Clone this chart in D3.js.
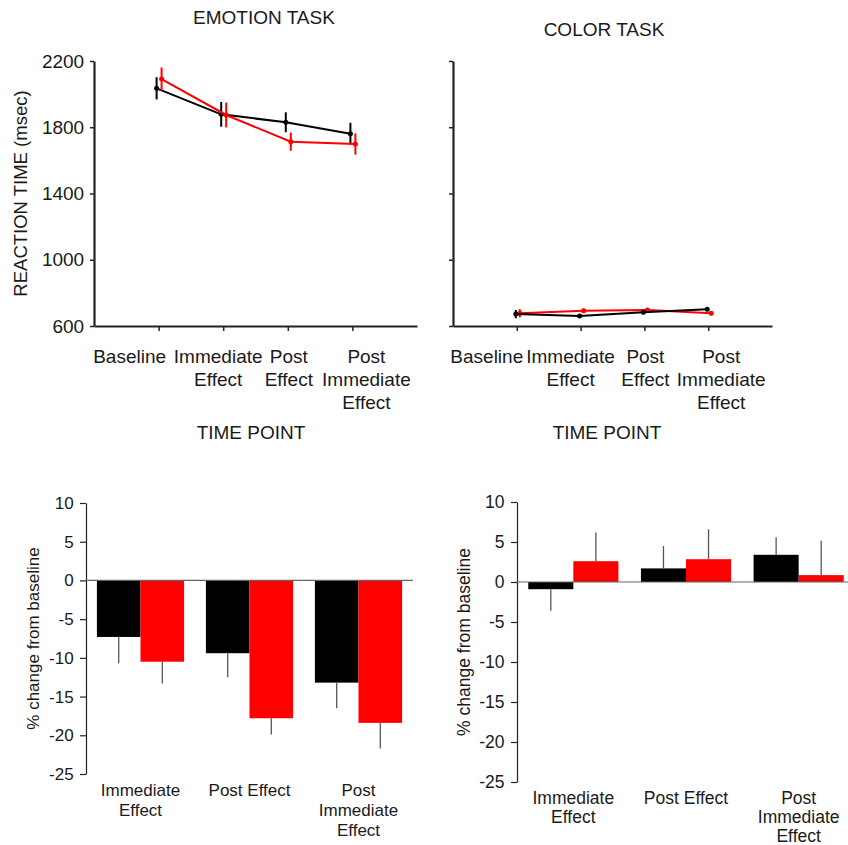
<!DOCTYPE html>
<html>
<head>
<meta charset="utf-8">
<script src="https://cdn.jsdelivr.net/npm/d3@7"></script>
<style>
  body { margin: 0; background: #fff; }
  svg { display: block; font-family: Arial, "Liberation Sans", sans-serif; }
</style>
</head>
<body>
<svg id="chart" width="848" height="845"></svg>
<script>
// time points of the reaction-time panels
var timePoints = ["Baseline", "Immediate Effect", "Post Effect", "Post Immediate Effect"];
var timeLabelLines = [["Baseline"], ["Immediate", "Effect"], ["Post", "Effect"], ["Post", "Immediate", "Effect"]];
var rtTicks = [600, 1000, 1400, 1800, 2200];

// emotion task reaction times (msec)
var emotionBlack = [2035, 1878, 1830, 1761];
var emotionBlackErr = [67, 75, 60, 66];
var emotionRed = [2091, 1874, 1713, 1699];
var emotionRedErr = [70, 75, 55, 64];

// color task reaction times (msec)
var colorBlack = [672, 660, 683, 701];
var colorBlackErr = [25, 12, 12, 12];
var colorRed = [677, 692, 697, 677];
var colorRedErr = [25, 12, 12, 12];

// % change from baseline
var changePoints = ["Immediate Effect", "Post Effect", "Post Immediate Effect"];
var changeLabelLines = [["Immediate", "Effect"], ["Post Effect"], ["Post", "Immediate", "Effect"]];
var changeTicks = [-25, -20, -15, -10, -5, 0, 5, 10];
var emotionChangeBlack = [-7.3, -9.4, -13.2];
var emotionChangeBlackErr = [3.4, 3.1, 3.3];
var emotionChangeRed = [-10.5, -17.8, -18.4];
var emotionChangeRedErr = [2.8, 2.1, 3.3];
var colorChangeBlack = [-0.9, 1.7, 3.4];
var colorChangeBlackErr = [2.7, 2.8, 2.2];
var colorChangeRed = [2.6, 2.85, 0.86];
var colorChangeRedErr = [3.6, 3.75, 4.3];

var svg = d3.select("#chart"),
  textColor = "#1a1a1a",
  red = "#ff0000",
  black = "#000000";

var lineChart = function(sett) {
  var g = svg.append("g"),
    x = d3.scaleLinear().domain([-1, 4]).range([sett.left, sett.right]),
    y = d3.scaleLinear().domain([600, 2200]).range([sett.bottom, sett.top]),
    line = d3.line()
      .x(function(d, i) { return x(i) + d.dx; })
      .y(function(d) { return y(d.v); });

  g.append("text")
    .attr("x", sett.titleX)
    .attr("y", sett.titleY)
    .attr("text-anchor", "middle")
    .attr("font-size", 19)
    .attr("fill", textColor)
    .text(sett.title);

  var yAxis = g.append("g")
    .attr("transform", "translate(" + sett.left + ",0)")
    .call(d3.axisLeft(y).tickValues(rtTicks).tickSize(4).tickSizeOuter(0)
      .tickFormat(sett.showYLabels ? function(d) { return String(d); } : ""));
  yAxis.select(".domain").attr("stroke", "#222").attr("stroke-width", 2.2);
  yAxis.selectAll(".tick line").attr("stroke", "#222").attr("stroke-width", 1.5);
  yAxis.selectAll(".tick text").attr("font-size", 19).attr("fill", textColor).attr("dx", "-0.15em");

  var xAxis = g.append("g")
    .attr("transform", "translate(0," + sett.bottom + ")")
    .call(d3.axisBottom(x).tickValues([0, 1, 2, 3]).tickSize(5).tickSizeOuter(0).tickFormat(""));
  xAxis.select(".domain").attr("stroke", "#222").attr("stroke-width", 2.2);
  xAxis.selectAll(".tick line").attr("stroke", "#222").attr("stroke-width", 1.5);

  timeLabelLines.forEach(function(lines, i) {
    var t = g.append("text")
      .attr("text-anchor", "middle")
      .attr("font-size", 19)
      .attr("fill", textColor);
    lines.forEach(function(s, j) {
      t.append("tspan")
        .attr("x", x(i) + sett.labelDx[i])
        .attr("y", sett.bottom + 37 + j * 23)
        .text(s);
    });
  });

  if (sett.showYLabels) {
    g.append("text")
      .attr("transform", "translate(" + (sett.left - 67) + "," + ((sett.top + sett.bottom) / 2) + ") rotate(-90)")
      .attr("text-anchor", "middle")
      .attr("font-size", 18.5)
      .attr("fill", textColor)
      .text("REACTION TIME (msec)");
  }

  g.append("text")
    .attr("x", sett.xTitleX)
    .attr("y", sett.bottom + 113)
    .attr("text-anchor", "middle")
    .attr("font-size", 19)
    .attr("fill", textColor)
    .text("TIME POINT");

  sett.series.forEach(function(s) {
    var pts = s.values.map(function(v, i) { return {v: v, e: s.err[i], dx: s.dx}; });
    g.append("path")
      .attr("d", line(pts))
      .attr("fill", "none")
      .attr("stroke", s.color)
      .attr("stroke-width", 2);
    g.selectAll(null)
      .data(pts)
      .enter()
      .append("line")
        .attr("x1", function(d, i) { return x(i) + d.dx; })
        .attr("x2", function(d, i) { return x(i) + d.dx; })
        .attr("y1", function(d) { return y(d.v + d.e); })
        .attr("y2", function(d) { return y(d.v - d.e); })
        .attr("stroke", s.color)
        .attr("stroke-width", 2);
    g.selectAll(null)
      .data(pts)
      .enter()
      .append("circle")
        .attr("cx", function(d, i) { return x(i) + d.dx; })
        .attr("cy", function(d) { return y(d.v); })
        .attr("r", 2.5)
        .attr("fill", s.color);
  });
};

var barChart = function(sett) {
  var g = svg.append("g"),
    x0 = d3.scaleBand().domain(changePoints).range([sett.left, sett.right]).paddingInner(0.2).paddingOuter(0.1),
    x1 = d3.scaleBand().domain(["black", "red"]).range([0, x0.bandwidth()]),
    y = d3.scaleLinear().domain([-25, 10]).range([sett.bottom, sett.top]);

  var series = [
    {key: "black", color: black, values: sett.black, err: sett.blackErr},
    {key: "red", color: red, values: sett.red, err: sett.redErr}
  ];

  series.forEach(function(s) {
    var bars = changePoints.map(function(c, i) { return {c: c, v: s.values[i], e: s.err[i]}; });
    g.selectAll(null)
      .data(bars)
      .enter()
      .append("rect")
        .attr("x", function(d) { return x0(d.c) + x1(s.key); })
        .attr("width", x1.bandwidth())
        .attr("y", function(d) { return y(Math.max(0, d.v)); })
        .attr("height", function(d) { return Math.abs(y(d.v) - y(0)); })
        .attr("fill", s.color);
    g.selectAll(null)
      .data(bars)
      .enter()
      .append("line")
        .attr("x1", function(d) { return x0(d.c) + x1(s.key) + x1.bandwidth() / 2; })
        .attr("x2", function(d) { return x0(d.c) + x1(s.key) + x1.bandwidth() / 2; })
        .attr("y1", function(d) { return y(d.v); })
        .attr("y2", function(d) { return y(d.v < 0 ? d.v - d.e : d.v + d.e); })
        .attr("stroke", "#555")
        .attr("stroke-width", 1.3);
  });

  var yAxis = g.append("g")
    .attr("transform", "translate(" + sett.left + ",0)")
    .call(d3.axisLeft(y).tickValues(changeTicks).tickSize(6).tickSizeOuter(0)
      .tickFormat(function(d) { return String(d); }));
  yAxis.select(".domain").attr("stroke", "#222").attr("stroke-width", 1.2);
  yAxis.selectAll(".tick line").attr("stroke", "#222").attr("stroke-width", 1.2);
  yAxis.selectAll(".tick text").attr("font-size", sett.fontSize).attr("fill", textColor).attr("dx", "-0.2em");

  g.append("line")
    .attr("x1", sett.left)
    .attr("x2", sett.right)
    .attr("y1", y(0))
    .attr("y2", y(0))
    .attr("stroke", "#666")
    .attr("stroke-width", 1.2);

  changeLabelLines.forEach(function(lines, i) {
    var t = g.append("text")
      .attr("text-anchor", "middle")
      .attr("font-size", sett.fontSize)
      .attr("fill", textColor);
    lines.forEach(function(s, j) {
      t.append("tspan")
        .attr("x", x0(changePoints[i]) + x0.bandwidth() / 2)
        .attr("y", sett.bottom + 22 + j * sett.lineGap)
        .text(s);
    });
  });

  g.append("text")
    .attr("transform", "translate(" + (sett.left - sett.labelOffset) + "," + ((sett.top + sett.bottom) / 2) + ") rotate(-90)")
    .attr("text-anchor", "middle")
    .attr("font-size", sett.fontSize)
    .attr("fill", textColor)
    .text("% change from baseline");
};

lineChart({
  title: "EMOTION TASK", titleX: 264, titleY: 24, xTitleX: 251,
  left: 94, right: 417, top: 61, bottom: 326,
  showYLabels: true,
  labelDx: [-29, -5, 1, 14],
  series: [
    {color: black, values: emotionBlack, err: emotionBlackErr, dx: -2},
    {color: red, values: emotionRed, err: emotionRedErr, dx: 3}
  ]
});

lineChart({
  title: "COLOR TASK", titleX: 604, titleY: 36, xTitleX: 607,
  left: 453, right: 772, top: 61, bottom: 326,
  showYLabels: false,
  labelDx: [-30, -10, 1, 13],
  series: [
    {color: red, values: colorRed, err: colorRedErr, dx: 3},
    {color: black, values: colorBlack, err: colorBlackErr, dx: -1}
  ]
});

barChart({
  left: 86, right: 413, top: 503, bottom: 774, fontSize: 17, lineGap: 20, labelOffset: 47,
  black: emotionChangeBlack, blackErr: emotionChangeBlackErr,
  red: emotionChangeRed, redErr: emotionChangeRedErr
});

barChart({
  left: 517, right: 855, top: 502, bottom: 782, fontSize: 17.5, lineGap: 19, labelOffset: 47,
  black: colorChangeBlack, blackErr: colorChangeBlackErr,
  red: colorChangeRed, redErr: colorChangeRedErr
});
</script>
</body>
</html>
